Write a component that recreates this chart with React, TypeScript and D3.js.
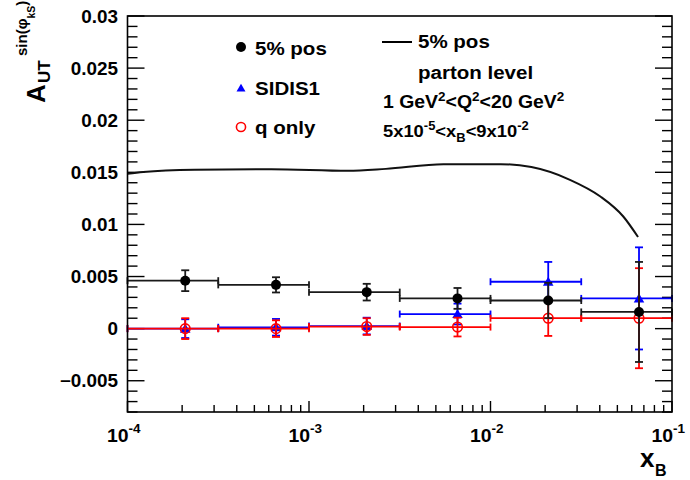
import React from "react";
import * as d3 from "d3";

// Bin edges and mean x_B of each bin
const binEdges = [1e-4, 3.162e-4, 1e-3, 3.162e-3, 1e-2, 3.162e-2, 1e-1];
const binCenters = [2.08e-4, 6.58e-4, 2.08e-3, 6.58e-3, 2.08e-2, 6.58e-2];

// "5% pos"
const posValues = [0.0046, 0.0042, 0.0035, 0.0029, 0.0027, 0.0016];
const posErrors = [0.001, 0.00073, 0.0008, 0.001, 0.0017, 0.0048];

// "SIDIS1"
const sidisValues = [0.0, 0.00013, 0.00025, 0.0014, 0.0045, 0.0029];
const sidisErrors = [0.0009, 0.0008, 0.0008, 0.001, 0.0019, 0.0049];

// "q only"
const qValues = [0.0, 0.0, 0.0002, 0.00015, 0.001, 0.001];
const qErrors = [0.001, 0.0008, 0.0008, 0.0009, 0.0017, 0.0048];

// "5% pos" at parton level
const partonX = [1.0e-4, 1.22e-4, 2.35e-4, 6.2e-4, 1.64e-3, 2.65e-3, 5.5e-3, 1.14e-2, 1.68e-2, 2.74e-2, 4.03e-2, 5.39e-2, 6.5e-2];
const partonY = [0.01485, 0.01503, 0.01524, 0.0153, 0.01514, 0.01533, 0.01578, 0.01578, 0.0155, 0.01428, 0.01268, 0.01076, 0.00879];

const yTickLabels = ["\u22120.005", "0", "0.005", "0.01", "0.015", "0.02", "0.025", "0.03"];
const yTickValues = [-0.005, 0, 0.005, 0.01, 0.015, 0.02, 0.025, 0.03];
const xTickValues = [1e-4, 1e-3, 1e-2, 1e-1];
const xTickExponents = ["-4", "-3", "-2", "-1"];

const W = 690;
const H = 480;
const L = 127.5;
const R = 672;
const T = 16;
const B = 412;

const FONT = "'Liberation Sans', Arial, Helvetica, sans-serif";
const SX = 1.08;

const x = d3.scaleLog().domain([1e-4, 1e-1]).range([L, R]);
const y = d3.scaleLinear().domain([-0.008, 0.03]).range([B, T]);

function Txt({ px, py, size, anchor = "start", fill = "#000", children }: any) {
  return (
    <text
      transform={`translate(${px},${py}) scale(${SX},1)`}
      fontSize={size}
      textAnchor={anchor}
      fill={fill}
      fontFamily={FONT}
      fontWeight="bold"
    >
      {children}
    </text>
  );
}

const triangle = d3.symbol().type(d3.symbolTriangle);

function Marker({ kind, cx, cy, scale = 1 }: any) {
  if (kind === "dot") return <circle cx={cx} cy={cy} r={5 * scale} fill="#000" />;
  if (kind === "tri")
    return <path d={triangle.size(48 * scale * scale)() as string} transform={`translate(${cx},${cy + 1})`} fill="#0000ff" />;
  return <circle cx={cx} cy={cy} r={4.8 * scale} fill="none" stroke="#ff0000" strokeWidth={1.6} />;
}

function Series({ values, errors, color, kind }: any) {
  const cap = 3.5;
  return (
    <g>
      {values.map((v: number, i: number) => {
        const cx = x(binCenters[i]);
        const cy = y(v);
        const x0 = x(binEdges[i]);
        const x1 = x(binEdges[i + 1]);
        const yt = y(v + errors[i]);
        const yb = y(v - errors[i]);
        return (
          <g key={i} stroke={color} strokeWidth={1.8} fill="none">
            <line x1={x0} x2={x1} y1={cy} y2={cy} />
            <line x1={x0} x2={x0} y1={cy - cap} y2={cy + cap} />
            <line x1={x1} x2={x1} y1={cy - cap} y2={cy + cap} />
            <line x1={cx} x2={cx} y1={yt} y2={yb} />
            <line x1={cx - 4} x2={cx + 4} y1={yt} y2={yt} />
            <line x1={cx - 4} x2={cx + 4} y1={yb} y2={yb} />
            <g stroke="none">
              <Marker kind={kind} cx={cx} cy={cy} />
            </g>
          </g>
        );
      })}
    </g>
  );
}

export default function App() {
  const yMinor = d3.range(-8, 31).map((k) => k * 0.001);
  const xMinor: number[] = [];
  for (let e = -4; e < -1; e++) for (let m = 2; m <= 9; m++) xMinor.push(m * Math.pow(10, e));

  const partonLine = d3
    .line<number>()
    .x((_, i) => x(partonX[i]))
    .y((d) => y(d))
    .curve(d3.curveMonotoneX)(partonY) as string;

  return (
    <svg width={W} height={H} style={{ position: "absolute", left: 0, top: 0, background: "#fff" }}>
      <rect x={0} y={0} width={W} height={H} fill="#fff" />

      {/* y ticks on both sides */}
      {yMinor.map((v, i) => {
        const major = Math.abs(Math.round(v * 1000) % 5) === 0;
        const len = major ? 17 : 10;
        return (
          <g key={i} stroke="#000" strokeWidth={1.4}>
            <line x1={L} x2={L + len} y1={y(v)} y2={y(v)} />
            <line x1={R - len} x2={R} y1={y(v)} y2={y(v)} />
          </g>
        );
      })}

      {/* x ticks */}
      {xTickValues.map((v, i) => (
        <line key={"M" + i} x1={x(v)} x2={x(v)} y1={B} y2={B - 11} stroke="#000" strokeWidth={1.4} />
      ))}
      {xMinor.map((v, i) => (
        <line key={"m" + i} x1={x(v)} x2={x(v)} y1={B} y2={B - 7} stroke="#000" strokeWidth={1.4} />
      ))}

      {/* y tick labels */}
      {yTickValues.map((v, i) => (
        <Txt key={i} px={118} py={y(v) + 6.5} size={17.5} anchor="end">
          {yTickLabels[i]}
        </Txt>
      ))}

      {/* x tick labels */}
      {xTickValues.map((v, i) => (
        <g key={i}>
          <Txt px={x(v) + 1} py={442} size={18} anchor="end">10</Txt>
          <Txt px={x(v) + 1} py={433} size={12.5}>{xTickExponents[i]}</Txt>
        </g>
      ))}

      {/* data */}
      <Series values={sidisValues} errors={sidisErrors} color="#0000ff" kind="tri" />
      <Series values={qValues} errors={qErrors} color="#ff0000" kind="ring" />
      <Series values={posValues} errors={posErrors} color="#1a1a1a" kind="dot" />

      <path d={partonLine} fill="none" stroke="#111" strokeWidth={2} />

      {/* frame */}
      <rect x={L} y={T} width={R - L} height={B - T} fill="none" stroke="#000" strokeWidth={1.6} />

      {/* legend */}
      <Marker kind="dot" cx={241} cy={47} />
      <Txt px={255} py={55} size={19}>5% pos</Txt>
      <Marker kind="tri" cx={241} cy={88} scale={0.85} />
      <Txt px={255} py={95} size={19}>SIDIS1</Txt>
      <Marker kind="ring" cx={241} cy={127} scale={0.95} />
      <Txt px={255} py={134} size={19}>q only</Txt>

      <line x1={382} x2={412} y1={42} y2={42} stroke="#000" strokeWidth={2} />
      <Txt px={418} py={48} size={19}>5% pos</Txt>
      <Txt px={418} py={79} size={19}>parton level</Txt>
      <Txt px={383} py={108} size={18}>
        1 GeV<tspan dy={-7} fontSize={12.5}>2</tspan>
        <tspan dy={7}>{"<Q"}</tspan>
        <tspan dy={-7} fontSize={12.5}>2</tspan>
        <tspan dy={7}>{"<20 GeV"}</tspan>
        <tspan dy={-7} fontSize={12.5}>2</tspan>
      </Txt>
      <Txt px={383} py={137} size={17}>
        5x10<tspan dy={-7} fontSize={12}>-5</tspan>
        <tspan dy={7}>{"<x"}</tspan>
        <tspan dy={5} fontSize={12}>B</tspan>
        <tspan dy={-5}>{"<9x10"}</tspan>
        <tspan dy={-7} fontSize={12}>-2</tspan>
      </Txt>

      {/* y axis title */}
      <g transform="translate(45,103) rotate(-90)" fontFamily={FONT} fontWeight="bold" fill="#000">
        <text x={0} y={0} fontSize={26}>A</text>
        <text x={20} y={5} fontSize={17}>UT</text>
        <text x={47} y={-18} fontSize={15}>
          sin(φ<tspan dy={8} fontSize={10.5}>kS</tspan>
          <tspan dy={-8}>)</tspan>
        </text>
      </g>

      {/* x axis title */}
      <text x={640} y={467} fontSize={26} fontFamily={FONT} fontWeight="bold">x</text>
      <text x={655} y={476} fontSize={16} fontFamily={FONT} fontWeight="bold">B</text>
    </svg>
  );
}
